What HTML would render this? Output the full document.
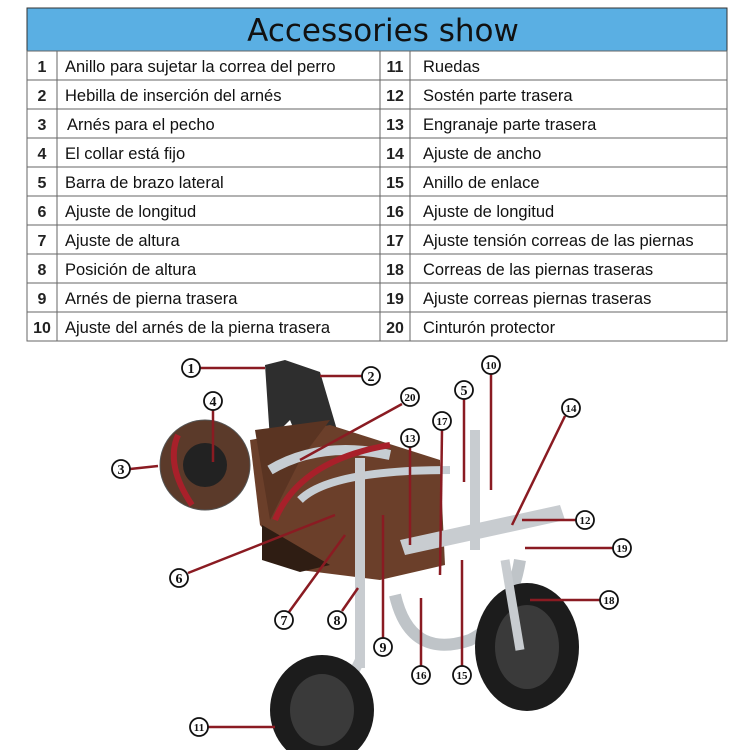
<!DOCTYPE html>
<html><head><meta charset="utf-8"><style>
body{margin:0;background:#fff;width:750px;height:750px;overflow:hidden}
svg{display:block}
.t{font-family:"Liberation Sans",sans-serif;font-size:16.5px;fill:#111}
.n{font-family:"Liberation Sans",sans-serif;font-size:16px;font-weight:bold;fill:#222}
.c{font-family:"Liberation Serif",serif;font-size:14px;font-weight:bold;fill:#111;text-anchor:middle}
</style></head><body>
<svg width="750" height="750" viewBox="0 0 750 750">
<rect x="27" y="8" width="700" height="43" fill="#5aafe3" stroke="#333"/>
<text x="383" y="41" text-anchor="middle" font-family="'DejaVu Sans','Liberation Sans',sans-serif" font-size="31" fill="#111">Accessories show</text>
<g stroke="#666" stroke-width="1" fill="none">
<rect x="27" y="51" width="700" height="290"/>
<line x1="57" y1="51" x2="57" y2="341"/><line x1="380" y1="51" x2="380" y2="341"/><line x1="410" y1="51" x2="410" y2="341"/>
<line x1="27" y1="80" x2="727" y2="80"/><line x1="27" y1="109" x2="727" y2="109"/><line x1="27" y1="138" x2="727" y2="138"/><line x1="27" y1="167" x2="727" y2="167"/><line x1="27" y1="196" x2="727" y2="196"/><line x1="27" y1="225" x2="727" y2="225"/><line x1="27" y1="254" x2="727" y2="254"/><line x1="27" y1="283" x2="727" y2="283"/><line x1="27" y1="312" x2="727" y2="312"/>
</g>
<g class="n" text-anchor="middle">
<text x="42" y="72">1</text><text x="42" y="101">2</text><text x="42" y="130">3</text><text x="42" y="159">4</text><text x="42" y="188">5</text><text x="42" y="217">6</text><text x="42" y="246">7</text><text x="42" y="275">8</text><text x="42" y="304">9</text><text x="42" y="333">10</text>
<text x="395" y="72">11</text><text x="395" y="101">12</text><text x="395" y="130">13</text><text x="395" y="159">14</text><text x="395" y="188">15</text><text x="395" y="217">16</text><text x="395" y="246">17</text><text x="395" y="275">18</text><text x="395" y="304">19</text><text x="395" y="333">20</text>
</g>
<g class="t">
<text x="65" y="72">Anillo para sujetar la correa del perro</text>
<text x="65" y="101">Hebilla de inserción del arnés</text>
<text x="67" y="130">Arnés para el pecho</text>
<text x="65" y="159">El collar está fijo</text>
<text x="65" y="188">Barra de brazo lateral</text>
<text x="65" y="217">Ajuste de longitud</text>
<text x="65" y="246">Ajuste de altura</text>
<text x="65" y="275">Posición de altura</text>
<text x="65" y="304">Arnés de pierna trasera</text>
<text x="65" y="333">Ajuste del arnés de la pierna trasera</text>
<text x="423" y="72">Ruedas</text>
<text x="423" y="101">Sostén parte trasera</text>
<text x="423" y="130">Engranaje parte trasera</text>
<text x="423" y="159">Ajuste de ancho</text>
<text x="423" y="188">Anillo de enlace</text>
<text x="423" y="217">Ajuste de longitud</text>
<text x="423" y="246">Ajuste tensión correas de las piernas</text>
<text x="423" y="275">Correas de las piernas traseras</text>
<text x="423" y="304">Ajuste correas piernas traseras</text>
<text x="423" y="333">Cinturón protector</text>
</g>
<g>
<path d="M265 365 L285 360 L320 372 L340 440 L300 445 L290 420 L270 440 Z" fill="#2e2e2e"/>
<path d="M250 440 L330 425 L440 460 L445 565 L380 580 L300 570 L260 525 Z" fill="#6b3f2a"/>
<path d="M255 430 L330 420 L300 460 L270 520 Z" fill="#5a3422"/>
<path d="M262 525 L330 565 L300 572 L262 560 Z" fill="#2f1d13"/>
<path d="M270 470 Q320 440 390 455" stroke="#c6cdd3" stroke-width="10" fill="none"/>
<path d="M275 520 Q300 460 390 445" stroke="#a8202a" stroke-width="6" fill="none"/>
<path d="M300 500 Q330 470 450 470" stroke="#c6cdd3" stroke-width="8" fill="none"/>
<circle cx="205" cy="465" r="45" fill="#5b3a2a" stroke="#555"/>
<circle cx="205" cy="465" r="22" fill="#222"/>
<path d="M178 435 Q165 465 192 505" stroke="#a8202a" stroke-width="6" fill="none"/>
<rect x="355" y="458" width="10" height="210" fill="#c8ccd0"/>
<rect x="470" y="430" width="10" height="120" fill="#c8ccd0"/>
<path d="M400 540 L560 505 L565 520 L405 555 Z" fill="#c8ccd0"/>
<path d="M395 595 Q410 660 470 640 Q510 620 520 560" stroke="#bfc4c8" stroke-width="12" fill="none"/>
<path d="M360 660 L345 690" stroke="#c8ccd0" stroke-width="10"/>
<ellipse cx="322" cy="710" rx="52" ry="55" fill="#1c1c1c"/>
<ellipse cx="322" cy="710" rx="32" ry="36" fill="#3a3a3a"/>
<ellipse cx="527" cy="647" rx="52" ry="64" fill="#1c1c1c"/>
<ellipse cx="527" cy="647" rx="32" ry="42" fill="#3a3a3a"/>
<path d="M505 560 L520 650" stroke="#c8ccd0" stroke-width="9"/>
</g>
<g stroke="#8a1b22" stroke-width="2.5" fill="none">
<line x1="200" y1="368" x2="265" y2="368"/><line x1="320" y1="376" x2="362" y2="376"/>
<line x1="213" y1="410" x2="213" y2="462"/><line x1="130" y1="469" x2="158" y2="466"/>
<line x1="402" y1="404" x2="300" y2="460"/><line x1="464" y1="399" x2="464" y2="482"/>
<line x1="491" y1="374" x2="491" y2="490"/><line x1="442" y1="430" x2="440" y2="575"/>
<line x1="410" y1="447" x2="410" y2="545"/><line x1="565" y1="416" x2="512" y2="525"/>
<line x1="522" y1="520" x2="576" y2="520"/><line x1="525" y1="548" x2="613" y2="548"/>
<line x1="188" y1="573" x2="335" y2="515"/><line x1="289" y1="612" x2="345" y2="535"/>
<line x1="342" y1="611" x2="358" y2="588"/><line x1="383" y1="638" x2="383" y2="515"/>
<line x1="530" y1="600" x2="600" y2="600"/><line x1="421" y1="666" x2="421" y2="598"/>
<line x1="462" y1="666" x2="462" y2="560"/><line x1="208" y1="727" x2="275" y2="727"/>
</g>
<g fill="#fff" stroke="#111" stroke-width="1.8">
<circle cx="191" cy="368" r="9"/><circle cx="371" cy="376" r="9"/><circle cx="213" cy="401" r="9"/><circle cx="121" cy="469" r="9"/>
<circle cx="410" cy="397" r="9"/><circle cx="464" cy="390" r="9"/><circle cx="491" cy="365" r="9"/><circle cx="442" cy="421" r="9"/>
<circle cx="410" cy="438" r="9"/><circle cx="571" cy="408" r="9"/><circle cx="585" cy="520" r="9"/><circle cx="622" cy="548" r="9"/>
<circle cx="179" cy="578" r="9"/><circle cx="284" cy="620" r="9"/><circle cx="337" cy="620" r="9"/><circle cx="383" cy="647" r="9"/>
<circle cx="609" cy="600" r="9"/><circle cx="421" cy="675" r="9"/><circle cx="462" cy="675" r="9"/><circle cx="199" cy="727" r="9"/>
</g>
<g class="c">
<text x="191" y="373">1</text><text x="371" y="381">2</text><text x="213" y="406">4</text><text x="121" y="474">3</text>
<text x="410" y="401" font-size="11">20</text><text x="464" y="395">5</text><text x="491" y="369" font-size="11">10</text><text x="442" y="425" font-size="11">17</text>
<text x="410" y="442" font-size="11">13</text><text x="571" y="412" font-size="11">14</text><text x="585" y="524" font-size="11">12</text><text x="622" y="552" font-size="11">19</text>
<text x="179" y="583">6</text><text x="284" y="625">7</text><text x="337" y="625">8</text><text x="383" y="652">9</text>
<text x="609" y="604" font-size="11">18</text><text x="421" y="679" font-size="11">16</text><text x="462" y="679" font-size="11">15</text><text x="199" y="731" font-size="11">11</text>
</g>
</svg>
</body></html>
